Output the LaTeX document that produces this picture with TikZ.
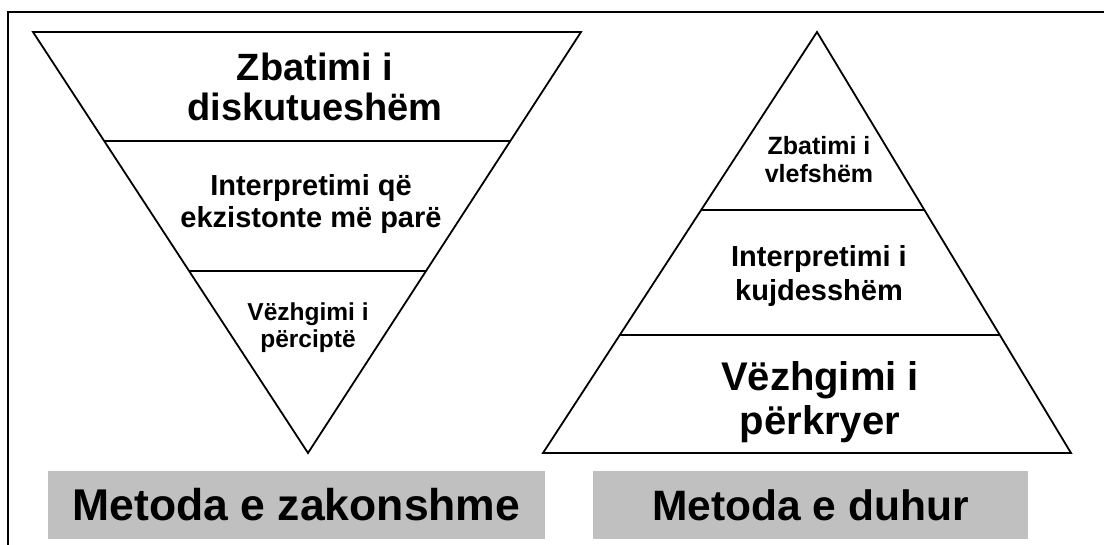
\documentclass[tikz,border=0pt]{standalone}
\usepackage{fontspec}
\setmainfont{Liberation Sans}
\usepackage{tikz}
\usetikzlibrary{calc}
\definecolor{boxgray}{RGB}{192,192,192}
\newcommand{\tierfont}[2]{\fontsize{#1}{#2}\selectfont\bfseries}% size, baselineskip

\begin{document}
\begin{tikzpicture}[x=1pt,y=-1pt,
  tri/.style={line width=1.8pt,line join=miter},
  tiertext/.style={align=center,inner sep=0pt},
  methodbox/.style={fill=boxgray,inner sep=0pt}]
\useasboundingbox (0,0) rectangle (1104,545);

% Outer frame (open at right and bottom)
\draw[line width=2.2pt] (8,545) -- (8,12) -- (1104,12);

% Inverted triangle
\coordinate (ltl) at (33,32);
\coordinate (ltr) at (581,32);
\coordinate (lap) at (308,453);
\draw[tri] (ltl) -- (ltr) -- (lap) -- cycle;
\draw[tri] ($(ltl)!0.259!(lap)$) -- ($(ltr)!0.259!(lap)$);
\draw[tri] ($(ltl)!0.568!(lap)$) -- ($(ltr)!0.568!(lap)$);

% Pyramid
\coordinate (rap) at (817,32);
\coordinate (rbl) at (543,453);
\coordinate (rbr) at (1071,453);
\draw[tri] (rap) -- (rbr) -- (rbl) -- cycle;
\draw[tri] ($(rap)!0.423!(rbl)$) -- ($(rap)!0.423!(rbr)$);
\draw[tri] ($(rap)!0.720!(rbl)$) -- ($(rap)!0.720!(rbr)$);

% Left levels
\node[tiertext,font=\tierfont{38}{40}] (lzbat) at (315,87) {Zbatimi i\\diskutueshëm};
\node[tiertext,font=\tierfont{29}{32}] (linter) at (311,204) {Interpretimi që\\ekzistonte më parë};
\node[tiertext,font=\tierfont{24.5}{27}] (lvezh) at (308,328) {Vëzhgimi i\\përciptë};

% Right levels
\node[tiertext,font=\tierfont{25}{28}] (rzbat) at (819,160) {Zbatimi i\\vlefshëm};
\node[tiertext,font=\tierfont{29}{34}] (rinter) at (819,276) {Interpretimi i\\kujdesshëm};
\node[tiertext,font=\tierfont{40}{44}] (rvezh) at (820,402) {Vëzhgimi i\\përkryer};

% Method labels
\node[methodbox,font=\tierfont{44.5}{48},minimum width=497pt,minimum height=68pt] (mzak) at (296.5,505) {Metoda e zakonshme};
\node[methodbox,font=\tierfont{42.5}{46},minimum width=435pt,minimum height=68pt] (mduh) at (810.5,505) {Metoda e duhur};

\end{tikzpicture}
\end{document}
